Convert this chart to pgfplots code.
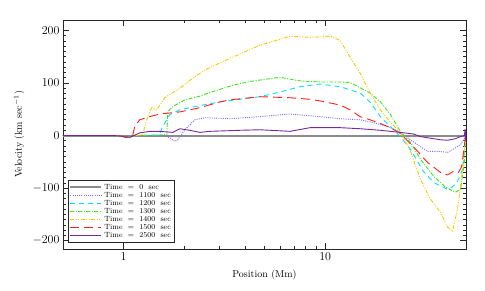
\documentclass[border=0pt]{standalone}
\usepackage{pgfplots}
\pgfplotsset{compat=1.18}
\definecolor{cgray}{RGB}{140,140,140}
\definecolor{cblue}{RGB}{120,110,255}
\definecolor{ccyan}{RGB}{0,225,250}
\definecolor{cgreen}{RGB}{60,230,30}
\definecolor{cyellow}{RGB}{255,200,0}
\definecolor{cred}{RGB}{255,30,30}
\definecolor{cpurple}{RGB}{120,40,150}
\begin{document}
\begin{tikzpicture}
\path[use as bounding box] (0,0) rectangle (485pt,291pt);
\begin{axis}[
  at={(63pt,42pt)}, anchor=south west,
  scale only axis, width=403pt, height=229pt,
  xmode=log, xmin=0.5, xmax=50,
  ymin=-216, ymax=220,
  xtick={1,10}, xticklabels={1,10},
  ytick={-200,-100,0,100,200},
  minor y tick num=9,
  tick align=inside,
  major tick length=6pt, minor tick length=3pt,
  axis line style={black!85, line width=0.9pt},
  every tick/.style={black!85, line width=0.6pt},
  tick label style={font=\fontsize{12}{14}\selectfont},
  label style={font=\fontsize{13}{15}\selectfont},
  xlabel={Position (Mm)},
  ylabel={Velocity (km sec$^{-1}$)},
  every axis x label/.style={at={(axis description cs:0.5,-0.1135)},anchor=center},
  every axis y label/.style={at={(axis description cs:-0.109,0.5)},rotate=90,anchor=center},
  legend style={name=leg, at={(0.0124,0.0306)}, anchor=south west, font=\fontsize{7.5}{8}\selectfont,
    draw=none, fill=white, inner sep=1.2pt, row sep=-2.6pt, cells={anchor=west}},
  every axis plot/.append style={line width=0.9pt},
]
\addplot[color=cgray, line width=2pt,
  legend image code/.code={\draw[cgray,line width=2pt] (0pt,0pt) -- (31pt,0pt);}] coordinates {(0.5,0)(50,0)};
\addlegendentry{Time~~=~~0~~sec}
\addplot[color=cblue, dash pattern=on 1pt off 1.2pt,
  legend image code/.code={\draw[cblue,line width=1pt,dash pattern=on 1pt off 1.2pt] (0pt,0pt) -- (31pt,0pt);}] coordinates {
(0.5,0)(0.9,0)(0.97,-1)(1.02,-3)(1.08,-3)(1.15,0)(1.563,0)(1.694,-4)(1.794,-11)(1.856,-8)(2.012,11)(2.256,30)(2.53,34)(3.37,32)(4.75,36)(6.70,41)(9.44,36)(11.88,32)(14.9,30)(16.7,26)(18.8,21)(21.1,15)(23.6,6)(26.5,-8)(29.7,-21)(32.2,-30)(36.1,-30)(40.5,-32)(43.3,-26)(47.0,-17)(49.1,-5)(49.7,0)};
\addlegendentry{Time~~=~~1100~~sec}
\addplot[color=ccyan, dash pattern=on 5pt off 4pt,
  legend image code/.code={\draw[ccyan,line width=1pt,dash pattern=on 5pt off 4pt] (0pt,0pt) -- (31pt,0pt);}] coordinates {
(0.5,0)(0.9,0)(0.97,-1)(1.02,-3)(1.08,-3)(1.15,0)(1.5,1)(1.563,17)(1.694,40)(1.90,49)(2.388,57)(3.0,64)(3.776,69)(4.75,74)(5.97,83)(7.51,93)(9.44,98)(11.88,93)(14.9,81)(16.7,64)(18.8,36)(21.1,17)(23.6,-2)(26.5,-26)(30.7,-68)(34.5,-89)(37.3,-96)(40.5,-102)(42.8,-98)(45.4,-87)(48.1,-64)(49.7,0)};
\addlegendentry{Time~~=~~1200~~sec}
\addplot[color=cgreen, dash pattern=on 4pt off 1.5pt on 1pt off 1.5pt,
  legend image code/.code={\draw[cgreen,line width=1pt,dash pattern=on 4pt off 1.5pt on 1pt off 1.5pt] (0pt,0pt) -- (31pt,0pt);}] coordinates {
(0.5,0)(0.9,0)(0.97,-1)(1.02,-3)(1.08,-3)(1.15,0)(1.5,1)(1.64,2)(1.655,45)(1.753,55)(2.012,68)(2.388,75)(2.679,82)(3.5,96)(4.236,103)(5.97,111)(7.51,104)(9.44,102)(11.88,102)(13.3,101)(16.7,81)(18.8,64)(21.1,40)(23.6,8)(26.5,-13)(29.7,-45)(34.5,-77)(39.5,-98)(44.3,-108)(47.0,-102)(49.1,-50)(49.7,0)};
\addlegendentry{Time~~=~~1300~~sec}
\addplot[color=cyellow, dash pattern=on 4pt off 1.5pt on 1pt off 1.5pt on 1pt off 1.5pt,
  legend image code/.code={\draw[cyellow,line width=1pt,dash pattern=on 4pt off 1.5pt on 1pt off 1.5pt on 1pt off 1.5pt] (0pt,0pt) -- (31pt,0pt);}] coordinates {
(0.5,0)(0.9,0)(0.97,-1)(1.02,-3)(1.08,-3)(1.15,0)(1.243,2)(1.30,30)(1.378,53)(1.459,49)(1.60,72)(1.90,90)(2.13,105)(2.53,125)(3.37,147)(4.75,172)(6.70,189)(8.42,187)(10.6,189)(11.88,181)(13.3,149)(14.9,119)(16.7,81)(18.8,49)(21.1,25)(23.6,6)(26.5,-30)(29.7,-83)(33.3,-121)(37.3,-146)(40.5,-174)(42.8,-183)(45.4,-140)(48.1,-64)(49.7,0)};
\addlegendentry{Time~~=~~1400~~sec}
\addplot[color=cred, dash pattern=on 9pt off 5pt,
  legend image code/.code={\draw[cred,line width=1pt,dash pattern=on 9pt off 5pt] (0pt,0pt) -- (31pt,0pt);}] coordinates {
(0.5,0)(0.9,0)(0.97,-1)(1.02,-3)(1.08,-3)(1.109,0)(1.134,17)(1.201,30)(1.347,36)(1.51,41)(1.90,45)(2.388,53)(3.0,64)(3.37,68)(4.75,74)(6.70,72)(8.42,69)(9.44,66)(11.88,58)(13.3,49)(14.9,36)(16.7,30)(18.8,23)(21.1,15)(23.6,4)(27.4,-21)(32.2,-51)(37.3,-70)(40.5,-75)(43.3,-68)(45.9,-70)(47.5,-60)(49.1,-20)(49.7,0)};
\addlegendentry{Time~~=~~1500~~sec}
\addplot[color=cpurple,
  legend image code/.code={\draw[cpurple,line width=1pt] (0pt,0pt) -- (31pt,0pt);}] coordinates {
(0.5,0)(0.9,0)(0.97,-1)(1.02,-3)(1.08,-3)(1.2,5)(1.347,8)(1.51,8)(1.753,6)(1.90,13)(2.13,10)(2.388,6)(2.679,8)(3.776,10)(4.75,11)(6.70,8)(8.42,15)(11.88,15)(14.9,13)(18.8,10)(23.6,6)(27.4,3)(29.7,-2)(37.3,-8)(40.5,-9)(44.3,-6)(47.0,-2)(49.1,0)(49.5,12)(49.8,-8)(50,8)};
\addlegendentry{Time~~=~~2500~~sec}
\end{axis}
\draw[black!85, line width=0.8pt] (leg.south west) rectangle (leg.north east);
\end{tikzpicture}
\end{document}
